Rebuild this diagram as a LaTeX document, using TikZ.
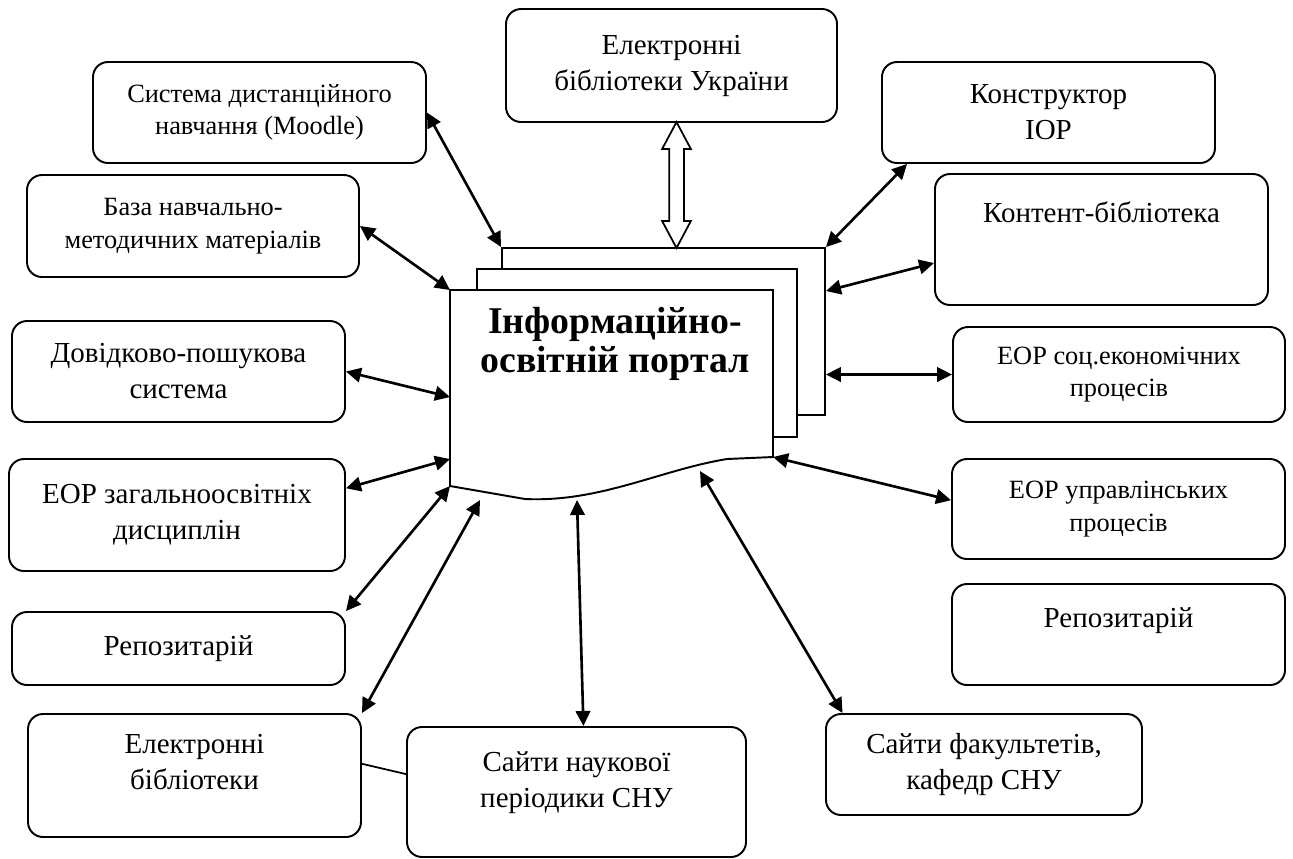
\documentclass[tikz,border=0pt]{standalone}
\usepackage{fontspec}
\setmainfont{Liberation Serif}
\usetikzlibrary{arrows.meta,shapes.arrows,calc}

\begin{document}
\begin{tikzpicture}[
  box/.style={draw, rounded corners=0.3cm, line width=1.1pt, align=center,
    minimum width=6.66cm, minimum height=2.02cm, font=\fontsize{16.5}{20.5}\selectfont},
  small/.style={font=\fontsize{15}{18.5}\selectfont},
  sheet/.style={draw, fill=white, line width=1.1pt},
  dbl/.style={double arrow, draw, fill=white, line width=1pt, minimum height=2.52cm,
    minimum width=0.54cm, inner sep=0.13cm, double arrow head extend=0.14cm,
    double arrow tip angle=56, rotate=90},
  ar/.tip={Triangle[length=0.3cm,width=0.29cm]},
  link/.style={ar-ar, line width=1.5pt}]
\useasboundingbox (0,0) rectangle (25.86,-17.16);

\node[box, small] (moodle) at (5.19,-2.25) {Система дистанційного\\навчання (Moodle)};
\node[box, small, minimum width=6.64cm, minimum height=2.04cm] (baza) at (3.86,-4.52) {База навчально-\\методичних матеріалів};
\node[box] (dovid) at (3.57,-7.43) {Довідково-пошукова\\система};
\node[box, minimum width=6.72cm, minimum height=2.24cm] (eorzag) at (3.54,-10.3) {ЕОР загальноосвітніх\\дисциплін};
\node[box, minimum height=1.46cm] (repl) at (3.57,-12.97) {Репозитарій};
\node[box, minimum height=2.46cm, text depth=0.55cm] (elbib) at (3.89,-15.51) {Електронні\\бібліотеки};
\node[box, minimum width=6.78cm, minimum height=2.6cm, text depth=0.5cm] (saitn) at (11.53,-15.84) {Сайти наукової\\періодики СНУ};

\node[box, minimum width=6.62cm, minimum height=2.26cm] (elukr) at (13.43,-1.31) {Електронні\\бібліотеки України};
\node[box] (konstr) at (20.97,-2.25) {Конструктор\\ІОР};
\node[box, minimum height=2.62cm, text height=0.45cm, text depth=1.15cm] (kont) at (22.03,-4.79) {Контент-бібліотека};
\node[box, small, minimum width=6.64cm, minimum height=1.9cm] (eorsoc) at (22.38,-7.49) {ЕОР соц.економічних\\процесів};
\node[box, small, minimum height=2.0cm] (eorupr) at (22.37,-10.18) {ЕОР управлінських\\процесів};
\node[box, text height=0.45cm, text depth=0.75cm] (repr) at (22.37,-12.69) {Репозитарій};
\node[box, minimum width=6.32cm] (saitf) at (19.68,-15.29) {Сайти факультетів,\\кафедр СНУ};

\node[sheet, minimum width=6.46cm, minimum height=3.34cm] (back) at (13.27,-6.63) {};
\node[sheet, minimum width=6.4cm, minimum height=3.36cm] (mid) at (12.74,-7.06) {};
\coordinate (fnw) at (9,-5.8);
\coordinate (fne) at (15.46,-5.8);
\coordinate (fse) at (15.46,-9.14);
\coordinate (fsw) at (9,-9.72);
\draw[sheet] (fsw) -- (fnw) -- (fne) -- (fse) -- (14.54,-9.18)
  .. controls (13.2,-9.4) and (12.0,-10.05) .. (10.5,-9.98) -- cycle;
\node[font=\fontsize{21.5}{22}\selectfont\bfseries, align=center] (portal) at (12.3,-6.88) {Інформаційно-\\освітній портал};

\coordinate (fl1) at (9,-7.94);
\coordinate (fl2) at (9,-9.18);
\coordinate (w1) at (9.6,-10.0);
\coordinate (w2) at (11.54,-10.0);
\coordinate (w3) at (14.0,-9.42);

\node[dbl] (arr) at ($(elukr.south)!0.5!(elukr.south |- back.north) + (0.1,0)$) {};

\draw[link] (moodle.east) -- (back.north west);
\draw[link] (baza.east) -- (fnw);
\draw[link] (dovid.east) -- (fl1);
\draw[link] (eorzag.9) -- (fl2);
\draw[link] (repl.north east) -- (fsw);
\draw[link] (elbib.north east) -- (w1);
\draw[link] (saitn.84) -- (w2);
\draw[link] (saitf.160) -- (w3);
\draw[link] (konstr.200) -- (back.north east);
\draw[link] (kont.188) -- (back.14);
\draw[link] (back.east |- eorsoc.west) -- (eorsoc.west);
\draw[link] (fse) -- (eorupr.177);
\draw[line width=1pt] (elbib.4) -- (saitn.174);
\end{tikzpicture}
\end{document}
